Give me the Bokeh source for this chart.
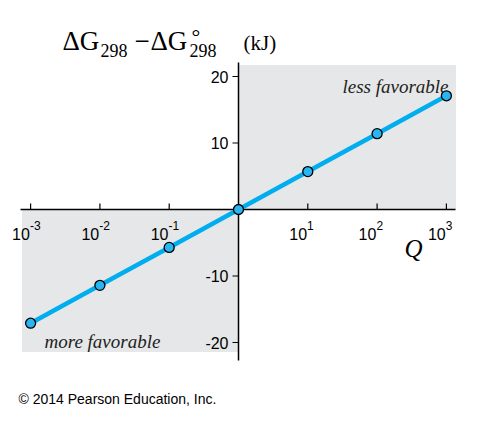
from bokeh.plotting import figure
from bokeh.embed import file_html
from bokeh.resources import INLINE
from bokeh.core.properties import value
from bokeh.models import Range1d

log_q = [-3, -2, -1, 0, 1, 2, 3]
delta_g = [-17.1, -11.4, -5.7, 0.0, 5.7, 11.4, 17.1]
y_ticks = [20, 10, -10, -20]
x_tick_exps = ["-3", "-2", "-1", "1", "2", "3"]
x_tick_pos = [-3, -2, -1, 1, 2, 3]

W, H = 466, 416
DX = 69.3   # px per decade
DY = 6.65   # px per kJ
X0, Y0 = 238, 209  # origin in page px

def px(x):  # page px -> data x
    return (x - X0) / DX
def py(y):
    return (Y0 - y) / DY

p = figure(width=W, height=H, output_backend="svg", toolbar_location=None,
           x_range=Range1d(px(0), px(W)), y_range=Range1d(py(H), py(0)),
           min_border=0)
p.axis.visible = False
p.grid.visible = False
p.outline_line_color = None
p.background_fill_color = "white"

gray = "#e6e7e8"
p.quad(left=[0], right=[px(455)], bottom=[0], top=[py(65)], color=gray)
p.quad(left=[px(22)], right=[0], bottom=[py(351)], top=[0], color=gray)

# axes
p.segment(x0=[px(20)], y0=[0], x1=[px(455)], y1=[0], color="black", line_width=1.5)
p.segment(x0=[0], y0=[py(62)], x1=[0], y1=[py(360)], color="black", line_width=1.5)
p.segment(x0=x_tick_pos, y0=[0] * 6, x1=x_tick_pos, y1=[6 / DY] * 6, color="black", line_width=1.2)
p.segment(x0=[0] * 4, y0=y_ticks, x1=[-6 / DX] * 4, y1=y_ticks, color="black", line_width=1.2)

font = value("Liberation Sans")
p.text(x=[-10 / DX] * 4, y=y_ticks, text=[str(t) for t in y_ticks], text_align="right",
       text_baseline="middle", text_font=font, text_font_size="16px", text_color="black")
p.text(x=[t - 0.01 for t in x_tick_pos], y=[py(233)] * 6, text=["10"] * 6, text_align="right",
       text_baseline="alphabetic", text_font=font, text_font_size="16px", text_color="black")
p.text(x=[t - 0.01 for t in x_tick_pos], y=[py(225)] * 6, text=x_tick_exps, text_align="left",
       text_baseline="alphabetic", text_font=font, text_font_size="12px", text_color="black")

serif = value("Liberation Serif")
p.text(x=[px(404)], y=[py(248)], text=["Q"], text_font=serif, text_font_style="italic",
       text_font_size="25px", text_baseline="alphabetic", text_color="black")
p.text(x=[px(448)], y=[py(86)], text=["less favorable"], text_align="right", text_font=serif,
       text_font_style="italic", text_font_size="19px", text_baseline="alphabetic", text_color="#222")
p.text(x=[px(44)], y=[py(341)], text=["more favorable"], text_align="left", text_font=serif,
       text_font_style="italic", text_font_size="19px", text_baseline="alphabetic", text_color="#222")

# title pieces
p.text(x=[px(62), px(134), px(150)], y=[py(40)] * 3, text=["ΔG", "−", "ΔG"], text_font=serif,
       text_font_size="27px", text_baseline="alphabetic", text_color="black")
p.text(x=[px(100), px(189)], y=[py(50)] * 2, text=["298", "298"], text_font=serif,
       text_font_size="18px", text_baseline="alphabetic", text_color="black")
p.text(x=[px(191)], y=[py(36)], text=["°"], text_font=serif,
       text_font_size="22px", text_baseline="alphabetic", text_color="black")
p.text(x=[px(243)], y=[py(42)], text=["(kJ)"], text_font=serif,
       text_font_size="21px", text_baseline="alphabetic", text_color="black")

p.line(log_q, delta_g, color="#00aeef", line_width=4.5)
p.scatter(log_q, delta_g, size=10, fill_color="#29b6f0", line_color="black", line_width=1.3)

p.text(x=[px(18)], y=[py(398)], text=["© 2014 Pearson Education, Inc."], text_font=font,
       text_font_size="14px", text_baseline="alphabetic", text_color="black")

open("out.html", "w").write(file_html(p, INLINE))
